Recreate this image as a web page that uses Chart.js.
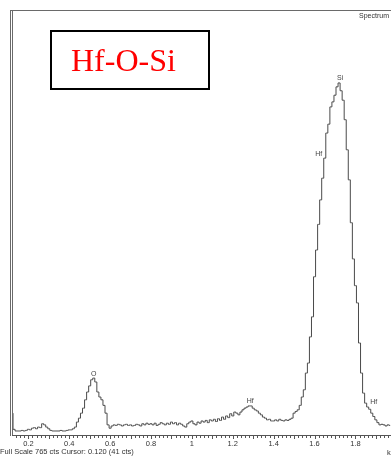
<!DOCTYPE html>
<html>
<head>
<meta charset="utf-8">
<script src="https://cdn.jsdelivr.net/npm/chart.js@4.4.1/dist/chart.umd.min.js"></script>
<style>
  html, body { margin: 0; padding: 0; background: #fff; }
  #wrap { width: 391px; height: 457px; }
</style>
</head>
<body>
<div id="wrap"><canvas id="spec" width="391" height="457"></canvas></div>
<script>
// EDS spectrum, 10 eV channels starting at 0.12 keV
const startKeV = 0.12;
const channelWidth = 0.01;
const counts = [
  41, 12, 9, 9, 9, 10, 9, 10, 12, 11,
  14, 15, 13, 16, 15, 22, 20, 16, 13, 10,
  9, 9, 9, 9, 10, 9, 9, 10, 11, 11,
  13, 16, 25, 32, 41, 50, 65, 79, 90, 101,
  104, 97, 79, 70, 65, 55, 41, 20, 14, 18,
  20, 19, 21, 20, 18, 20, 21, 19, 20, 18,
  19, 21, 20, 18, 22, 20, 23, 21, 22, 20,
  23, 19, 21, 24, 22, 20, 23, 21, 25, 22,
  24, 20, 23, 21, 18, 16, 22, 25, 27, 22,
  20, 25, 23, 27, 25, 28, 24, 29, 27, 30,
  26, 31, 28, 34, 30, 36, 33, 40, 36, 43,
  41, 38, 43, 47, 50, 52, 54, 54, 50, 47,
  45, 41, 38, 34, 32, 29, 30, 27, 27, 29,
  27, 30, 28, 27, 29, 28, 30, 32, 41, 44,
  47, 55, 70, 83, 113, 131, 178, 214, 286, 334,
  380, 424, 463, 499, 544, 560, 591, 600, 612, 627,
  634, 620, 603, 568, 514, 460, 383, 318, 270, 239,
  167, 113, 77, 59, 52, 48, 41, 35, 29, 24,
  20, 21, 20, 18, 20, 19
];
const tickValues = [0.2, 0.4, 0.6, 0.8, 1, 1.2, 1.4, 1.6, 1.8];
const tickLabels = ['0.2', '0.4', '0.6', '0.8', '1', '1.2', '1.4', '1.6', '1.8'];
const peakNames = ['O', 'Hf', 'Hf', 'Si', 'Hf'];
const peakKeV = [0.52, 1.285, 1.645, 1.725, 1.86];
const peakCts = [104, 54, 499, 634, 52];
const fullScale = 765;

const points = counts.map((c, i) => ({ x: +(startKeV + i * channelWidth).toFixed(2), y: c }));

const decor = {
  id: 'decor',
  afterDraw(chart) {
    const ctx = chart.ctx;
    const xs = chart.scales.x, ys = chart.scales.y;
    const area = chart.chartArea;
    ctx.save();

    // frame
    ctx.strokeStyle = '#6a6a6a';
    ctx.lineWidth = 1;
    ctx.beginPath();
    ctx.moveTo(10, 10.5); ctx.lineTo(391, 10.5);
    ctx.moveTo(10.5, 10); ctx.lineTo(10.5, 436);
    ctx.moveTo(12.5, 10); ctx.lineTo(12.5, 436);
    ctx.stroke();

    // x axis with minor ticks
    ctx.strokeStyle = '#555';
    ctx.beginPath();
    ctx.moveTo(area.left, 435.5); ctx.lineTo(391, 435.5);
    for (let k = 7; k <= 98; k++) {
      const px = Math.round(xs.getPixelForValue(k * 0.02)) + 0.5;
      ctx.moveTo(px, 436); ctx.lineTo(px, k % 5 === 0 ? 439 : 438);
    }
    ctx.stroke();

    ctx.fillStyle = '#333';
    ctx.font = '7.5px "Liberation Sans", Arial, sans-serif';
    ctx.textAlign = 'center';
    ctx.textBaseline = 'middle';
    tickValues.forEach((v, i) => {
      ctx.fillText(tickLabels[i], xs.getPixelForValue(v), 444);
    });
    ctx.textAlign = 'left';
    ctx.fillText('k', 387, 453);
    ctx.fillText('Full Scale ' + fullScale + ' cts Cursor: 0.120 (41 cts)', 0, 452);
    ctx.textAlign = 'right';
    ctx.font = '7px "Liberation Sans", Arial, sans-serif';
    ctx.fillText('Spectrum', 389, 16);

    // peak ids
    ctx.fillStyle = '#444';
    ctx.textAlign = 'center';
    ctx.textBaseline = 'bottom';
    peakNames.forEach((n, i) => {
      let px = xs.getPixelForValue(peakKeV[i]);
      const py = ys.getPixelForValue(peakCts[i]) - 1;
      if (i === 2) px -= 5;
      if (i === 4) px += 6;
      ctx.fillText(n, px, py);
    });

    // title box
    ctx.strokeStyle = '#000';
    ctx.lineWidth = 2;
    ctx.strokeRect(51, 31, 158, 58);
    ctx.fillStyle = '#ff0000';
    ctx.font = '32px "Liberation Serif", "Times New Roman", serif';
    ctx.textAlign = 'left';
    ctx.textBaseline = 'alphabetic';
    ctx.fillText('Hf-O-Si', 71, 71);
    ctx.restore();
  }
};

new Chart(document.getElementById('spec'), {
  type: 'line',
  data: {
    datasets: [{
      data: points,
      stepped: 'middle',
      borderColor: '#4a4a4a',
      borderWidth: 1,
      pointRadius: 0,
      fill: false
    }]
  },
  options: {
    responsive: false,
    animation: false,
    devicePixelRatio: 1,
    layout: { padding: { left: 12, right: 0, top: 10, bottom: 21 } },
    plugins: { legend: { display: false }, tooltip: { enabled: false } },
    scales: {
      x: { type: 'linear', min: 0.12, max: 1.974, display: false },
      y: { min: 0, max: fullScale, display: false }
    }
  },
  plugins: [decor]
});
</script>
</body>
</html>
